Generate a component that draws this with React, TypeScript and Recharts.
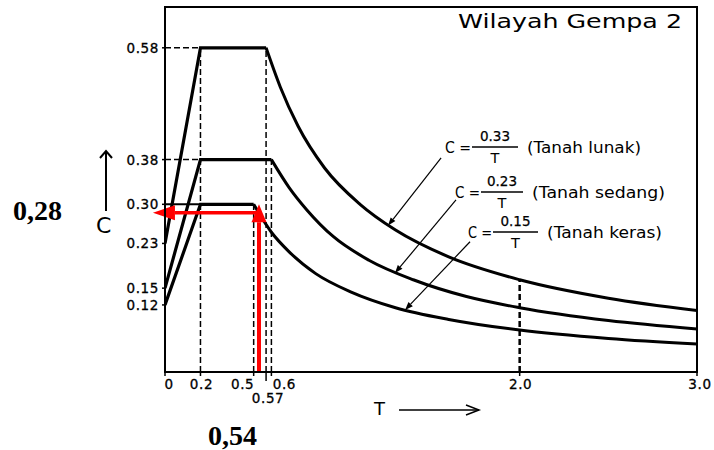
import React from 'react'
import { ComposedChart, Line, XAxis, YAxis, ReferenceLine, ReferenceArea } from 'recharts'

// spektrum respons, nilai
const riseT = [0, 0.2]
const lunakRise = [0.23, 0.58]
const sedangRise = [0.15, 0.38]
const kerasRise = [0.12, 0.3]

const lunakFlatEnd = 0.57
const sedangFlatEnd = 0.6
const kerasFlatEnd = 0.5

const lunakTailT = [0.57, 0.65, 0.75, 0.9, 1.1, 1.3, 1.6, 2.0, 2.5, 3.0]
const lunakTailC = [0.58, 0.51, 0.44, 0.365, 0.3, 0.254, 0.206, 0.165, 0.132, 0.11]
const sedangTailT = [0.6, 0.7, 0.8, 0.95, 1.15, 1.4, 1.7, 2.0, 2.5, 3.0]
const sedangTailC = [0.38, 0.33, 0.29, 0.242, 0.2, 0.165, 0.135, 0.115, 0.092, 0.077]
const kerasTailT = [0.5, 0.6, 0.7, 0.85, 1.05, 1.3, 1.6, 2.0, 2.5, 3.0]
const kerasTailC = [0.3, 0.25, 0.215, 0.176, 0.143, 0.115, 0.094, 0.075, 0.06, 0.05]

const xTicks = [0, 0.2, 0.5, 0.57, 0.6, 2.0, 3.0]
const yTicks = [0.12, 0.15, 0.23, 0.3, 0.38, 0.58]

// garis bantu putus-putus: [T, C atas]
const guideT = [0.2, 0.5, 0.57, 0.6, 2.0]
const guideTop = [0.58, 0.3, 0.58, 0.38, 0.165]

// contoh pembacaan (panah merah)
const readT = 0.53
const readC = 0.285

// penunjuk rumus -> kurva: [T awal, C awal, T kurva, C kurva]
const leaders = [
  [1.557, 0.383, 1.258, 0.262],
  [1.641, 0.308, 1.297, 0.177],
  [1.72, 0.233, 1.354, 0.111],
]

const yMax = 0.653
const font = 'DejaVu Sans, Verdana, sans-serif'

const toPts = (ts: number[], cs: number[]) => ts.map((t, i) => ({ t, c: cs[i] }))
const risePts = (cs: number[], end: number) => [...toPts(riseT, cs), { t: end, c: cs[1] }]

const xLabelPos: Record<string, [number, number]> = {
  '0': [4, 17],
  '0.2': [1, 17],
  '0.5': [-11, 17],
  '0.57': [2, 31],
  '0.6': [13, 17],
  '2': [1, 17],
  '3': [3, 17],
}

const XTick = (props: any) => {
  const { x, y, payload } = props
  const v = payload.value as number
  const [dx, dy] = xLabelPos[String(v)] || [0, 17]
  const label = v === 0 ? '0' : v >= 1 ? v.toFixed(1) : String(v)
  return (
    <g>
      <line x1={x} y1={y} x2={x} y2={y + (v === 0.57 ? 9 : 4)} stroke="#000" strokeWidth={1.5} />
      <text x={x + dx} y={y + dy} textAnchor="middle" fontSize={13.5} fontFamily={font} fill="#000" stroke="#000" strokeWidth={0.3} letterSpacing={0.6}>
        {label}
      </text>
    </g>
  )
}

const YTick = (props: any) => {
  const { x, y, payload } = props
  return (
    <g>
      <line x1={x - 3} y1={y} x2={x} y2={y} stroke="#000" strokeWidth={1.5} />
      <text x={x - 6} y={y + 5} textAnchor="end" fontSize={13.5} fontFamily={font} fill="#000" stroke="#000" strokeWidth={0.3} letterSpacing={0.6}>
        {(payload.value as number).toFixed(2)}
      </text>
    </g>
  )
}

const arrow = (head: number, wing: number, width: number, color: string) => (p: any) => {
  const { x1, y1, x2, y2 } = p
  const dx = x2 - x1
  const dy = y2 - y1
  const len = Math.hypot(dx, dy) || 1
  const ux = dx / len
  const uy = dy / len
  const bx = x2 - ux * head
  const by = y2 - uy * head
  const px = -uy
  const py = ux
  return (
    <g>
      <line x1={x1} y1={y1} x2={bx} y2={by} stroke={color} strokeWidth={width} />
      <polygon
        points={`${x2},${y2} ${bx + px * wing},${by + py * wing} ${bx - px * wing},${by - py * wing}`}
        fill={color}
      />
    </g>
  )
}

const Formula = ({ x, y, num, bar, tail, tailLen }: any) => (
  <g fontFamily={font} fill="#000">
    <text x={x} y={y} fontSize={15} textLength={bar[0] - x - 1} lengthAdjust="spacingAndGlyphs">C =</text>
    <line x1={bar[0]} y1={y - 6} x2={bar[1]} y2={y - 6} stroke="#000" strokeWidth={1.3} />
    <text x={(bar[0] + bar[1]) / 2} y={y - 12} textAnchor="middle" fontSize={13.5} stroke="#000" strokeWidth={0.25}>{num}</text>
    <text x={(bar[0] + bar[1]) / 2} y={y + 10} textAnchor="middle" fontSize={14.5}>T</text>
    <text x={bar[1] + 9} y={y} fontSize={15.5} textLength={tailLen} lengthAdjust="spacingAndGlyphs">{tail}</text>
  </g>
)

export default function App() {
  return (
    <div style={{ position: 'absolute', left: 0, top: 0, width: 714, height: 450, background: '#fff' }}>
      <ComposedChart width={714} height={450} margin={{ top: 7, right: 17, bottom: 0, left: 0 }}>
        <XAxis
          type="number"
          dataKey="t"
          domain={[0, 3]}
          ticks={xTicks}
          interval={0}
          allowDataOverflow
          height={78}
          axisLine={{ stroke: '#000', strokeWidth: 2 }}
          tickLine={false}
          tickSize={0}
          tickMargin={0}
          tick={<XTick />}
        />
        <YAxis
          type="number"
          domain={[0, yMax]}
          ticks={yTicks}
          interval={0}
          allowDataOverflow
          width={165}
          axisLine={{ stroke: '#000', strokeWidth: 2 }}
          tickLine={false}
          tickSize={0}
          tickMargin={0}
          tick={<YTick />}
        />
        <ReferenceArea x1={0} x2={3} y1={0} y2={yMax} fill="none" stroke="#000" strokeWidth={2} ifOverflow="visible" />

        {guideT.map((t, i) => (
          <ReferenceLine
            key={'g' + i}
            segment={[{ x: t, y: 0 }, { x: t, y: guideTop[i] }]}
            stroke="#000"
            strokeWidth={t === 2 ? 2.5 : 1.5}
            strokeDasharray="6 3"
          />
        ))}
        <ReferenceLine segment={[{ x: 0, y: 0.58 }, { x: 0.2, y: 0.58 }]} stroke="#000" strokeWidth={1.5} strokeDasharray="6 3" />
        <ReferenceLine segment={[{ x: 0, y: 0.38 }, { x: 0.2, y: 0.38 }]} stroke="#000" strokeWidth={1.5} strokeDasharray="6 3" />
        <ReferenceLine segment={[{ x: 0, y: 0.3 }, { x: 0.2, y: 0.3 }]} stroke="#000" strokeWidth={2} />

        <Line data={risePts(lunakRise, lunakFlatEnd)} dataKey="c" type="linear" stroke="#000" strokeWidth={3.2} dot={false} isAnimationActive={false} />
        <Line data={risePts(sedangRise, sedangFlatEnd)} dataKey="c" type="linear" stroke="#000" strokeWidth={3.2} dot={false} isAnimationActive={false} />
        <Line data={risePts(kerasRise, kerasFlatEnd)} dataKey="c" type="linear" stroke="#000" strokeWidth={3.2} dot={false} isAnimationActive={false} />
        <Line data={toPts(lunakTailT, lunakTailC)} dataKey="c" type="monotone" stroke="#000" strokeWidth={3} dot={false} isAnimationActive={false} />
        <Line data={toPts(sedangTailT, sedangTailC)} dataKey="c" type="monotone" stroke="#000" strokeWidth={3} dot={false} isAnimationActive={false} />
        <Line data={toPts(kerasTailT, kerasTailC)} dataKey="c" type="monotone" stroke="#000" strokeWidth={3} dot={false} isAnimationActive={false} />

        {leaders.map((l, i) => (
          <ReferenceLine
            key={'l' + i}
            segment={[{ x: l[0], y: l[1] }, { x: l[2], y: l[3] }]}
            ifOverflow="visible"
            shape={arrow(8, 3, 1.2, '#000')}
          />
        ))}

        <ReferenceLine
          segment={[{ x: readT, y: 0 }, { x: readT, y: 0.3 }]}
          ifOverflow="visible"
          shape={arrow(18, 7.5, 4, '#f00')}
        />
        <ReferenceLine
          segment={[{ x: readT, y: readC }, { x: -0.068, y: readC }]}
          ifOverflow="visible"
          shape={arrow(22, 7.5, 3.5, '#f00')}
        />
      </ComposedChart>

      <svg width={714} height={450} style={{ position: 'absolute', left: 0, top: 0, pointerEvents: 'none' }}>
        <text x={458} y={28} fontSize={20} fontFamily={font} textLength={224} lengthAdjust="spacingAndGlyphs">
          Wilayah Gempa 2
        </text>

        <Formula x={445} y={153} num="0.33" bar={[472, 518]} tail="(Tanah lunak)" tailLen={114} />
        <Formula x={455} y={198} num="0.23" bar={[481, 523]} tail="(Tanah sedang)" tailLen={133} />
        <Formula x={468} y={238} num="0.15" bar={[493, 538]} tail="(Tanah keras)" tailLen={115} />

        <text x={96} y={233} fontSize={22} fontFamily={font}>C</text>
        <line x1={106} y1={211} x2={106} y2={151} stroke="#000" strokeWidth={2} />
        <polyline points="100,158 106,151 112,158" fill="none" stroke="#000" strokeWidth={2} />

        <text x={374} y={415} fontSize={18} fontFamily={font}>T</text>
        <line x1={399} y1={410} x2={479} y2={410} stroke="#000" strokeWidth={1.5} />
        <polyline points="466,405 479,410 466,415" fill="none" stroke="#000" strokeWidth={1.5} />

        <text x={13} y={220} fontSize={28} fontWeight="bold" fontFamily="Liberation Serif, Times New Roman, serif">0,28</text>
        <text x={208} y={445} fontSize={28} fontWeight="bold" fontFamily="Liberation Serif, Times New Roman, serif">0,54</text>
      </svg>
    </div>
  )
}
